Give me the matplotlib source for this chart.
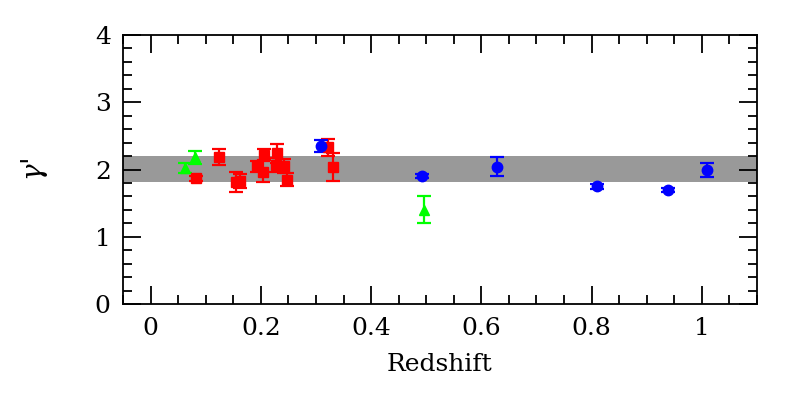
import numpy as np
import matplotlib.pyplot as plt
from matplotlib.ticker import MultipleLocator

plt.rcParams['font.family'] = 'DejaVu Serif'
plt.rcParams['mathtext.fontset'] = 'dejavuserif'

# data
red_z = [0.082, 0.124, 0.154, 0.162, 0.193, 0.203, 0.206, 0.227, 0.230, 0.241, 0.248, 0.322, 0.331]
red_g = [1.87, 2.18, 1.81, 1.83, 2.05, 1.97, 2.22, 2.07, 2.24, 2.05, 1.85, 2.33, 2.04]
red_e = [0.04, 0.12, 0.15, 0.10, 0.08, 0.15, 0.08, 0.10, 0.14, 0.10, 0.10, 0.13, 0.21]

blue_z = [0.309, 0.493, 0.628, 0.810, 0.939, 1.010]
blue_g = [2.35, 1.90, 2.04, 1.75, 1.70, 1.99]
blue_e = [0.09, 0.03, 0.14, 0.04, 0.03, 0.10]

green_z = [0.062, 0.080, 0.496]
green_g = [2.02, 2.18, 1.40]
green_e = [0.07, 0.10, 0.20]

band_lo, band_hi = 1.82, 2.20

fig = plt.figure(figsize=(8, 3.97), dpi=100)
ax = fig.add_axes([0.154, 0.234, 0.792, 0.678])

ax.axhspan(band_lo, band_hi, color='#999999', lw=0, zorder=1)

ax.errorbar(red_z, red_g, yerr=red_e, fmt='s', color='#ff0000', ms=7.5,
            elinewidth=1.6, capsize=5, capthick=1.6, zorder=3)
ax.errorbar(blue_z, blue_g, yerr=blue_e, fmt='o', color='#0000ff', ms=7.5,
            elinewidth=1.6, capsize=5, capthick=1.6, zorder=3)
ax.errorbar(green_z, green_g, yerr=green_e, fmt='^', color='#00ff00', ms=7.5,
            elinewidth=1.6, capsize=5, capthick=1.6, zorder=3)

ax.set_xlim(-0.05, 1.1)
ax.set_ylim(0, 4)
ax.xaxis.set_major_locator(MultipleLocator(0.2))
ax.xaxis.set_minor_locator(MultipleLocator(0.05))
ax.yaxis.set_major_locator(MultipleLocator(1))
ax.yaxis.set_minor_locator(MultipleLocator(0.2))
ax.set_xticks([0, 0.2, 0.4, 0.6, 0.8, 1.0])
ax.set_xticklabels(['0', '0.2', '0.4', '0.6', '0.8', '1'])

ax.tick_params(which='both', direction='in', top=True, right=True,
               labelsize=18, width=1.3, color='black')
ax.tick_params(which='major', length=13, pad=9)
ax.tick_params(which='minor', length=6.5)
for s in ax.spines.values():
    s.set_linewidth(1.3)

ax.set_xlabel('Redshift', fontsize=18, labelpad=10)
ax.set_ylabel(r"$\gamma$'", fontsize=20, labelpad=32)

fig.savefig('out.png', dpi=100)
